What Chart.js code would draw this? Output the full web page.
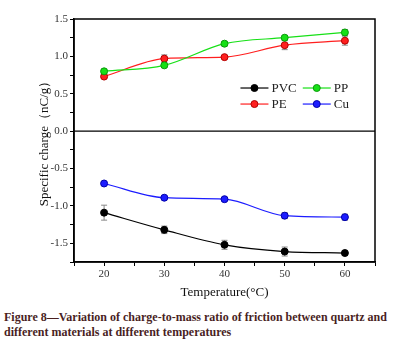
<!DOCTYPE html>
<html>
<head>
<meta charset="utf-8">
<script src="https://cdn.jsdelivr.net/npm/chart.js@4.4.1/dist/chart.umd.min.js"></script>
<style>
  body { margin: 0; background: #fff; width: 413px; height: 353px; overflow: hidden; position: relative; }
  #wrap { position: absolute; left: 0; top: 0; width: 413px; height: 310px; }
  #caption { position: absolute; left: 4px; top: 310px; font-family: "Liberation Serif", serif; font-weight: bold;
    font-size: 12px; line-height: 15px; color: #4a1f1f; white-space: nowrap; }
</style>
</head>
<body>
<div id="wrap"><canvas id="chart" width="413" height="310"></canvas></div>
<div id="caption">Figure 8—Variation of charge-to-mass ratio of friction between quartz and<br>different materials at different temperatures</div>
<script>
const temps = [20, 30, 40, 50, 60];
const pvc = [-1.09, -1.32, -1.52, -1.61, -1.63];
const pvcErr = [0.10, 0.05, 0.06, 0.06, 0.03];
const pp = [0.80, 0.88, 1.17, 1.25, 1.32];
const ppErr = [0.03, 0.03, 0.03, 0.03, 0.04];
const pe = [0.73, 0.97, 0.99, 1.15, 1.21];
const peErr = [0.02, 0.05, 0.02, 0.06, 0.06];
const cu = [-0.70, -0.89, -0.91, -1.13, -1.15];
const cuErr = [0.02, 0.02, 0.02, 0.04, 0.04];
const xTicks = [20, 30, 40, 50, 60];
const yTicks = [-1.5, -1.0, -0.5, 0.0, 0.5, 1.0, 1.5];

const serif = '"Liberation Serif", "Times New Roman", serif';

function makeSet(label, values, errs, color, border) {
  return {
    label: label,
    data: temps.map((t, i) => ({ x: t, y: values[i] })),
    errs: errs,
    borderColor: color,
    backgroundColor: color,
    pointBorderColor: border,
    pointBorderWidth: 1,
    pointRadius: 3.5,
    borderWidth: 1.2,
    cubicInterpolationMode: 'monotone'
  };
}

const datasets = [
  makeSet('PVC', pvc, pvcErr, '#000000', '#000000'),
  makeSet('PP', pp, ppErr, '#16e016', '#0a9a0a'),
  makeSet('PE', pe, peErr, '#ff1f1f', '#b00000'),
  makeSet('Cu', cu, cuErr, '#1c1cff', '#0000a8')
];

// error bars, box frame, zero line and legend inside the plot
const extras = {
  id: 'extras',
  beforeDatasetsDraw(chart) {
    const ctx = chart.ctx;
    const xs = chart.scales.x, ys = chart.scales.y;
    ctx.save();
    ctx.strokeStyle = '#888';
    ctx.lineWidth = 1;
    chart.data.datasets.forEach(ds => {
      ds.data.forEach((p, i) => {
        const px = xs.getPixelForValue(p.x);
        const y1 = ys.getPixelForValue(p.y + ds.errs[i]);
        const y2 = ys.getPixelForValue(p.y - ds.errs[i]);
        ctx.beginPath();
        ctx.moveTo(px, y1); ctx.lineTo(px, y2);
        ctx.moveTo(px - 3, y1); ctx.lineTo(px + 3, y1);
        ctx.moveTo(px - 3, y2); ctx.lineTo(px + 3, y2);
        ctx.stroke();
      });
    });
    ctx.restore();
  },
  afterDraw(chart) {
    const ctx = chart.ctx;
    const a = chart.chartArea;
    const ys = chart.scales.y;
    ctx.save();
    ctx.strokeStyle = '#000';
    ctx.lineWidth = 1.5;
    ctx.strokeRect(a.left, a.top, a.right - a.left, a.bottom - a.top);
    const y0 = ys.getPixelForValue(0);
    ctx.lineWidth = 1.2;
    ctx.beginPath();
    ctx.moveTo(a.left, y0); ctx.lineTo(a.right, y0);
    ctx.stroke();

    // legend, 2 x 2
    const w = a.right - a.left, h = a.bottom - a.top;
    const cols = [a.left + w * 0.553, a.left + w * 0.76];
    const rows = [a.top + h * 0.284, a.top + h * 0.35];
    ctx.font = '13px ' + serif;
    ctx.textBaseline = 'middle';
    chart.data.datasets.forEach((ds, i) => {
      const cx = cols[i % 2], cy = rows[Math.floor(i / 2)];
      ctx.strokeStyle = ds.borderColor;
      ctx.lineWidth = 1.2;
      ctx.beginPath();
      ctx.moveTo(cx, cy); ctx.lineTo(cx + 28, cy);
      ctx.stroke();
      ctx.beginPath();
      ctx.arc(cx + 14, cy, 3.5, 0, Math.PI * 2);
      ctx.fillStyle = ds.backgroundColor;
      ctx.fill();
      ctx.strokeStyle = ds.pointBorderColor;
      ctx.lineWidth = 1;
      ctx.stroke();
      ctx.fillStyle = '#222';
      ctx.fillText(ds.label, cx + 31, cy + 1);
    });
    ctx.restore();
  }
};

new Chart(document.getElementById('chart'), {
  type: 'line',
  data: { datasets: datasets },
  plugins: [extras],
  options: {
    responsive: false,
    animation: false,
    layout: { padding: { top: 19, right: 38, left: 0, bottom: 0 } },
    plugins: { legend: { display: false }, tooltip: { enabled: false } },
    scales: {
      x: {
        type: 'linear',
        min: 15, max: 65,
        afterFit(scale) { scale.height = 48; },
        border: { color: '#000', width: 1.5 },
        grid: { drawOnChartArea: false, drawTicks: true, tickLength: 4, color: '#000' },
        ticks: {
          stepSize: 5,
          padding: 2,
          color: '#333',
          font: { family: serif, size: 11 },
          callback: v => xTicks.includes(v) ? String(v) : ''
        },
        title: {
          display: true,
          text: 'Temperature(°C)',
          color: '#111',
          font: { family: serif, size: 13 },
          padding: { top: 0, bottom: 10 }
        }
      },
      y: {
        min: -1.75, max: 1.5,
        afterFit(scale) { scale.width = 74; },
        border: { color: '#000', width: 1.5 },
        grid: { drawOnChartArea: false, drawTicks: true, tickLength: 4, color: '#000' },
        ticks: {
          stepSize: 0.25,
          padding: 2,
          color: '#333',
          font: { family: serif, size: 11 },
          callback: v => yTicks.some(t => Math.abs(t - v) < 1e-6) ? v.toFixed(1) : ''
        },
        title: {
          display: true,
          text: 'Specific charge（nC/g）',
          color: '#111',
          font: { family: serif, size: 13 },
          padding: { top: 37, bottom: 0 }
        }
      }
    }
  }
});
</script>
</body>
</html>
